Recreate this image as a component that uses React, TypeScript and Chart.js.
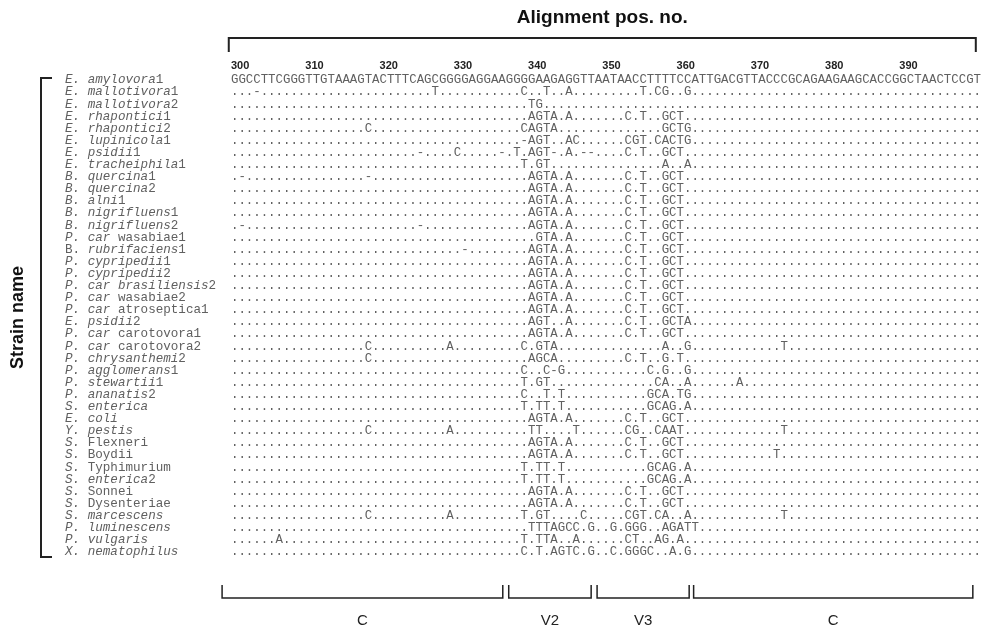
import React, { useEffect, useRef } from "react";
import { Chart, registerables } from "chart.js";

Chart.register(...registerables);

// Strain names; text between * is italic
const strainNames: string[] = [
  "*E. amylovora*1",
  "*E. mallotivora*1",
  "*E. mallotivora*2",
  "*E. rhapontici*1",
  "*E. rhapontici*2",
  "*E. lupinicola*1",
  "*E. psidii*1",
  "*E. tracheiphila*1",
  "*B. quercina*1",
  "*B. quercina*2",
  "*B. alni*1",
  "*B. nigrifluens*1",
  "*B. nigrifluens*2",
  "*P. car* wasabiae1",
  "B. *rubrifaciens*1",
  "*P. cypripedii*1",
  "*P. cypripedii*2",
  "*P. car brasiliensis*2",
  "*P. car* wasabiae2",
  "*P. car* atroseptica1",
  "*E. psidii*2",
  "*P. car* carotovora1",
  "*P. car* carotovora2",
  "*P. chrysanthemi*2",
  "*P. agglomerans*1",
  "*P. stewartii*1",
  "*P. ananatis*2",
  "*S. enterica*",
  "*E. coli*",
  "*Y. pestis*",
  "*S.* Flexneri",
  "*S.* Boydii",
  "*S.* Typhimurium",
  "*S. enterica*2",
  "*S.* Sonnei",
  "*S.* Dysenteriae",
  "*S. marcescens*",
  "*P. luminescens*",
  "*P. vulgaris*",
  "*X. nematophilus*",
];

const referenceSequence =
  "GGCCTTCGGGTTGTAAAGTACTTTCAGCGGGGAGGAAGGGGAAGAGGTTAATAACCTTTTCCATTGACGTTACCCGCAGAAGAAGCACCGGCTAACTCCGT";

const alignmentStart = 300;

const positionTicks: number[] = [300, 310, 320, 330, 340, 350, 360, 370, 380, 390];

// Differences from the reference (first strain): alignment position + base ("-" = gap)
const substitutions: string[] = [
  "",
  "303-,327T,339C,342T,345A,355T,357C,358G,361G",
  "340T,341G",
  "340A,341G,342T,343A,345A,353C,355T,358G,359C,360T",
  "318C,339C,340A,341G,342T,343A,358G,359C,360T,361G",
  "339-,340A,341G,342T,345A,346C,353C,354G,355T,357C,358A,359C,360T,361G",
  "325-,330C,336-,338T,340A,341G,342T,343-,345A,347-,348-,353C,355T,358G,359C,360T",
  "339T,341G,342T,358A,361A",
  "301-,318-,340A,341G,342T,343A,345A,353C,355T,358G,359C,360T",
  "340A,341G,342T,343A,345A,353C,355T,358G,359C,360T",
  "340A,341G,342T,343A,345A,353C,355T,358G,359C,360T",
  "340A,341G,342T,343A,345A,353C,355T,358G,359C,360T",
  "301-,325-,340A,341G,342T,343A,345A,353C,355T,358G,359C,360T",
  "341G,342T,343A,345A,353C,355T,358G,359C,360T",
  "331-,340A,341G,342T,343A,345A,353C,355T,358G,359C,360T",
  "340A,341G,342T,343A,345A,353C,355T,358G,359C,360T",
  "340A,341G,342T,343A,345A,353C,355T,358G,359C,360T",
  "340A,341G,342T,343A,345A,353C,355T,358G,359C,360T",
  "340A,341G,342T,343A,345A,353C,355T,358G,359C,360T",
  "340A,341G,342T,343A,345A,353C,355T,358G,359C,360T",
  "340A,341G,342T,345A,353C,355T,358G,359C,360T,361A",
  "340A,341G,342T,343A,345A,353C,355T,358G,359C,360T",
  "318C,329A,339C,341G,342T,343A,358A,361G,374T",
  "318C,340A,341G,342C,343A,353C,355T,358G,360T",
  "339C,342C,343-,344G,356C,358G,361G",
  "339T,341G,342T,357C,358A,361A,368A",
  "339C,342T,344T,356G,357C,358A,360T,361G",
  "339T,341T,342T,344T,356G,357C,358A,359G,361A",
  "340A,341G,342T,343A,345A,353C,355T,358G,359C,360T",
  "318C,329A,340T,341T,346T,353C,354G,357C,358A,359A,360T,374T",
  "340A,341G,342T,343A,345A,353C,355T,358G,359C,360T",
  "340A,341G,342T,343A,345A,353C,355T,358G,359C,360T,373T",
  "339T,341T,342T,344T,356G,357C,358A,359G,361A",
  "339T,341T,342T,344T,356G,357C,358A,359G,361A",
  "340A,341G,342T,343A,345A,353C,355T,358G,359C,360T",
  "340A,341G,342T,343A,345A,353C,355T,358G,359C,360T",
  "318C,329A,339T,341G,342T,347C,353C,354G,355T,357C,358A,361A,374T",
  "340T,341T,342T,343A,344G,345C,346C,348G,351G,353G,354G,355G,358A,359G,360A,361T,362T",
  "306A,339T,341T,342T,343A,346A,353C,354T,357A,358G,360A",
  "339C,341T,343A,344G,345T,346C,348G,351C,353G,354G,355G,356C,359A,361G",
];

// Regions under the alignment (alignment positions)
const regionLabels: string[] = ["C", "V2", "V3", "C"];
const regionStart: number[] = [298.3, 336.9, 348.8, 361.8];
const regionEnd: number[] = [336.1, 348.0, 361.2, 399.4];
const alignmentSpan: number[] = [299.2, 399.8];

const plainName = (s: string) => s.replace(/\*/g, "");

const SEQ_FONT = '12.4px "Liberation Mono", "Courier New", monospace';
const NAME_FONT = '12.6px "Liberation Mono", "Courier New", monospace';
const SANS = '"Liberation Sans", Arial, sans-serif';

export default function App() {
  const canvasRef = useRef<HTMLCanvasElement | null>(null);

  useEffect(() => {
    const canvas = canvasRef.current;
    if (!canvas) return;

    const labels = strainNames.map(plainName);
    const points: { x: number; y: string; ch: string }[] = [];
    strainNames.forEach((_, i) => {
      const diffs = new Map<number, string>();
      substitutions[i]
        .split(",")
        .filter(Boolean)
        .forEach((tok) => {
          const m = tok.trim().match(/^(\d+)(.)$/);
          if (m) diffs.set(Number(m[1]), m[2]);
        });
      for (let c = 0; c < referenceSequence.length; c++) {
        const pos = alignmentStart + c;
        const ch = i === 0 ? referenceSequence[c] : diffs.get(pos) ?? ".";
        points.push({ x: pos, y: labels[i], ch });
      }
    });

    const alignmentPlugin = {
      id: "alignmentText",
      afterDatasetsDraw(chart: any) {
        const ctx: CanvasRenderingContext2D = chart.ctx;
        const xs = chart.scales.x;
        const ys = chart.scales.y;
        const area = chart.chartArea;
        ctx.save();

        // sequence characters
        ctx.font = SEQ_FONT;
        ctx.fillStyle = "#606060";
        ctx.textAlign = "center";
        ctx.textBaseline = "middle";
        const meta = chart.getDatasetMeta(0);
        meta.data.forEach((el: any, k: number) => {
          ctx.fillText(points[k].ch, el.x, el.y);
        });

        // strain names
        ctx.textAlign = "left";
        strainNames.forEach((name, i) => {
          const y = ys.getPixelForValue(i);
          let x = 65;
          name.split("*").forEach((seg, k) => {
            if (!seg) return;
            ctx.font = (k % 2 === 1 ? "italic " : "") + NAME_FONT;
            ctx.fillText(seg, x, y);
            x += ctx.measureText(seg).width;
          });
        });

        // position tick labels
        ctx.fillStyle = "#222";
        ctx.font = "bold 11px " + SANS;
        ctx.textAlign = "left";
        positionTicks.forEach((t) => {
          ctx.fillText(String(t), xs.getPixelForValue(t - 0.5), 66);
        });

        // top bracket + title
        const x1 = xs.getPixelForValue(alignmentSpan[0]);
        const x2 = xs.getPixelForValue(alignmentSpan[1]);
        ctx.strokeStyle = "#222";
        ctx.lineWidth = 2;
        ctx.beginPath();
        ctx.moveTo(x1, 52);
        ctx.lineTo(x1, 38);
        ctx.lineTo(x2, 38);
        ctx.lineTo(x2, 52);
        ctx.stroke();
        ctx.fillStyle = "#111";
        ctx.font = "bold 19px " + SANS;
        ctx.textAlign = "center";
        ctx.fillText("Alignment pos. no.", (x1 + x2) / 2, 18);

        // left bracket + label
        const yTop = area.top + 4;
        const yBot = area.bottom - 1;
        ctx.beginPath();
        ctx.moveTo(52, yTop);
        ctx.lineTo(41, yTop);
        ctx.lineTo(41, yBot);
        ctx.lineTo(52, yBot);
        ctx.stroke();
        ctx.save();
        ctx.translate(18, (yTop + yBot) / 2);
        ctx.rotate(-Math.PI / 2);
        ctx.font = "bold 18px " + SANS;
        ctx.fillText("Strain name", 0, 0);
        ctx.restore();

        // region brackets
        ctx.lineWidth = 1.5;
        ctx.font = "15px " + SANS;
        ctx.fillStyle = "#222";
        regionLabels.forEach((lab, r) => {
          const a = xs.getPixelForValue(regionStart[r]);
          const b = xs.getPixelForValue(regionEnd[r]);
          ctx.beginPath();
          ctx.moveTo(a, 585);
          ctx.lineTo(a, 598);
          ctx.lineTo(b, 598);
          ctx.lineTo(b, 585);
          ctx.stroke();
          ctx.fillText(lab, (a + b) / 2, 621);
        });

        ctx.restore();
      },
    };

    const chart = new Chart(canvas, {
      type: "scatter",
      data: {
        datasets: [
          {
            data: points as any,
            pointRadius: 0,
            pointHoverRadius: 0,
            showLine: false,
          },
        ],
      },
      options: {
        responsive: false,
        animation: false,
        events: [],
        devicePixelRatio: 1,
        layout: { padding: { left: 231, right: 11, top: 74, bottom: 76 } },
        plugins: { legend: { display: false }, tooltip: { enabled: false } },
        scales: {
          x: {
            type: "linear",
            min: alignmentStart - 0.5,
            max: alignmentStart + referenceSequence.length - 0.5,
            display: false,
          },
          y: {
            type: "category",
            labels,
            offset: true,
            display: false,
          },
        },
      },
      plugins: [alignmentPlugin],
    });

    return () => chart.destroy();
  }, []);

  return (
    <div
      style={{
        position: "absolute",
        left: 0,
        top: 0,
        width: 992,
        height: 634,
        background: "#fff",
      }}
    >
      <canvas ref={canvasRef} width={992} height={634} />
    </div>
  );
}
